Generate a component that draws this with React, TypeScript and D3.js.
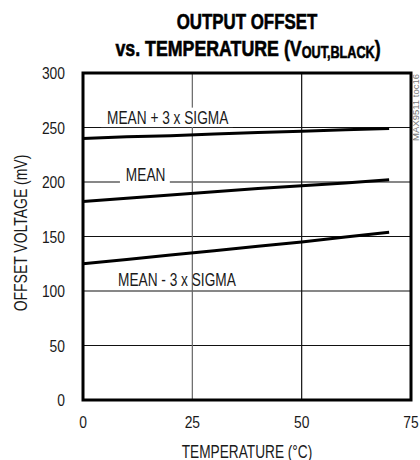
import React, { useEffect, useRef } from 'react';
import * as d3 from 'd3';

// temperature samples (°C)
const temps = [0, 10, 20, 30, 40, 50, 60, 70];
// offset voltage (mV)
const meanPlus3Sigma = [240, 241.5, 242.5, 244, 245.5, 246.5, 248, 249];
const meanValues = [182, 185, 188, 191, 194, 196.5, 199, 202];
const meanMinus3Sigma = [125, 129, 133, 137, 141, 145, 149.5, 154];

const xTicks = [0, 25, 50, 75];
const yTicks = [0, 50, 100, 150, 200, 250, 300];

// no condensed font installed: squeeze Liberation Sans horizontally instead
const FONT = '"Liberation Sans", Arial, sans-serif';

const W = 420;
const H = 460;
const margin = { top: 73, right: 9, bottom: 60, left: 83 };

type G = d3.Selection<SVGGElement, unknown, null, undefined>;

const narrowText = (
    parent: G,
    x: number,
    y: number,
    str: string,
    size: number,
    squeeze: number,
    anchor = 'start',
    weight = 'normal',
    rotate = 0,
) => {
    const grp = parent
        .append('g')
        .attr('transform', `translate(${x},${y}) rotate(${rotate}) scale(${squeeze},1)`);
    const t = grp.append('text')
        .attr('text-anchor', anchor)
        .style('font-family', FONT)
        .style('font-size', `${size}px`)
        .style('font-weight', weight)
        .attr('fill', '#1a1a1a')
        .text(str);
    return { grp, t };
};

const drawChart = (svgEl: SVGSVGElement) => {
    const svg = d3.select(svgEl);
    svg.selectAll('*').remove();

    const width = W - margin.left - margin.right;
    const height = H - margin.top - margin.bottom;

    const x = d3.scaleLinear().domain([0, 75]).range([0, width]);
    const y = d3.scaleLinear().domain([0, 300]).range([height, 0]);

    svg.append('rect').attr('width', W).attr('height', H).attr('fill', '#fff');
    const root = svg.append('g') as G;

    // --- Title (stroked a little to get a heavier weight) ---
    const cx = margin.left + width / 2;
    const { t: t1 } = narrowText(root, cx, 29, 'OUTPUT OFFSET', 22.5, 0.75, 'middle', 'bold');
    const { t: t2 } = narrowText(root, cx + 1, 56, '', 22.5, 0.79, 'middle', 'bold');
    t2.append('tspan').text('vs. TEMPERATURE (V');
    t2.append('tspan').attr('dy', 2).style('font-size', '16px').text('OUT,BLACK');
    t2.append('tspan').attr('dy', -2).text(')');
    [t1, t2].forEach(t => t.attr('fill', '#000').attr('stroke', '#000').attr('stroke-width', 0.6));

    const g = svg.append('g').attr('transform', `translate(${margin.left},${margin.top})`) as G;

    // --- Grid ---
    g.selectAll('.hgrid')
        .data(yTicks.filter(t => t > 0 && t < 300))
        .enter()
        .append('line')
        .attr('x1', 0)
        .attr('x2', width)
        .attr('y1', d => y(d))
        .attr('y2', d => y(d))
        .attr('stroke', '#111')
        .attr('stroke-width', 1.2);

    g.selectAll('.vgrid')
        .data(xTicks.filter(t => t > 0 && t < 75))
        .enter()
        .append('line')
        .attr('x1', d => x(d))
        .attr('x2', d => x(d))
        .attr('y1', 0)
        .attr('y2', height)
        .attr('stroke', (_d, i) => (i === 0 ? '#666' : '#111'))
        .attr('stroke-width', 1.2);

    // --- Curve labels (white boxes break the grid lines) ---
    const labels = [
        { text: 'MEAN + 3 x SIGMA', tx: 5.5, ty: 253.5, box: true },
        { text: 'MEAN', tx: 9.8, ty: 200.5, box: true },
        { text: 'MEAN - 3 x SIGMA', tx: 8, ty: 105, box: false },
    ];
    labels.forEach(l => {
        const { grp, t } = narrowText(g, x(l.tx), y(l.ty), l.text, 18.5, 0.74);
        if (l.box) {
            const bb = (t.node() as SVGTextElement).getBBox();
            grp.insert('rect', 'text')
                .attr('x', bb.x - 8)
                .attr('y', bb.y + 1)
                .attr('width', bb.width + 14)
                .attr('height', bb.height - 1)
                .attr('fill', '#fff');
        }
    });

    // --- Series ---
    const line = d3.line<number>()
        .x((_d, i) => x(temps[i]))
        .y(d => y(d));

    [meanPlus3Sigma, meanValues, meanMinus3Sigma].forEach(series => {
        g.append('path')
            .attr('d', line(series))
            .attr('fill', 'none')
            .attr('stroke', '#000')
            .attr('stroke-width', 3);
    });

    // --- Frame ---
    g.append('rect')
        .attr('x', 0)
        .attr('y', 0)
        .attr('width', width)
        .attr('height', height)
        .attr('fill', 'none')
        .attr('stroke', '#000')
        .attr('stroke-width', 3);

    // --- Axes labels ---
    yTicks.forEach(d => {
        narrowText(g, -18, y(d) + 6, String(d), 16.5, 0.84, 'end');
    });
    xTicks.forEach(d => {
        narrowText(g, x(d), height + 28, String(d), 16.5, 0.84, 'middle');
    });

    narrowText(g, width / 2, height + 58, 'TEMPERATURE (°C)', 18, 0.76, 'middle');
    narrowText(g, -56, 160, 'OFFSET VOLTAGE (mV)', 18.5, 0.755, 'middle', 'normal', -90);

    // figure id along the right edge
    svg.append('text')
        .attr('transform', `translate(${W - 1},${margin.top + 1}) rotate(-90)`)
        .attr('text-anchor', 'end')
        .style('font-family', FONT)
        .style('font-size', '9.5px')
        .attr('fill', '#777')
        .text('MAX9511 toc16');
};

const App: React.FC = () => {
    const ref = useRef<SVGSVGElement | null>(null);

    useEffect(() => {
        if (ref.current) drawChart(ref.current);
    }, []);

    return (
        <svg
            ref={ref}
            width={W}
            height={H}
            style={{ position: 'absolute', left: 0, top: 0, display: 'block' }}
        />
    );
};

export default App;
